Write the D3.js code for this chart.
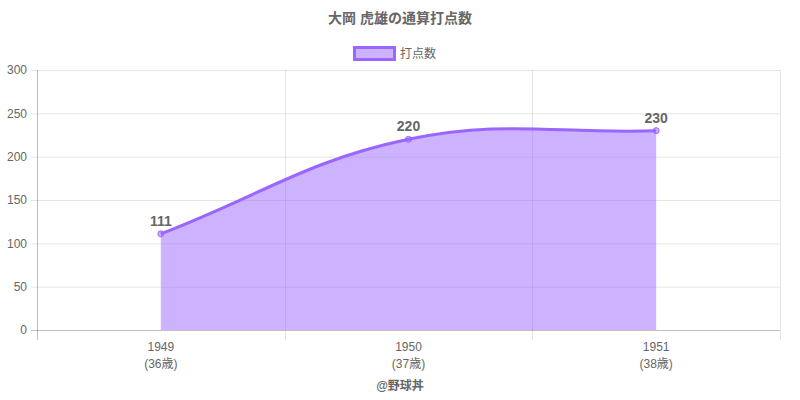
<!DOCTYPE html>
<html><head><meta charset="utf-8">
<script src="https://cdn.jsdelivr.net/npm/d3@7"></script>
<style>body{margin:0;background:#fff}svg{display:block}</style>
</head><body>
<svg id="c" width="800" height="400"></svg>
<script>
const title = "大岡 虎雄の通算打点数";
const seriesName = "打点数";
const years = ["1949", "1950", "1951"];
const ages = ["(36歳)", "(37歳)", "(38歳)"];
const values = [111, 220, 230];
const yTicks = [0, 50, 100, 150, 200, 250, 300];
const credit = "@野球丼";

const font = "'Liberation Sans', Arial, 'Noto Sans CJK JP', sans-serif";
const svg = d3.select("#c").style("font-family", font);
const L = 37, R = 780, T = 70, B = 330;

const x = d3.scaleBand().domain(years).range([L, R]);
const y = d3.scaleLinear().domain([0, 300]).range([B, T]);

// Chart.js-style tension spline as a d3 curve
function ChartSpline(context) { this._context = context; }
ChartSpline.prototype = {
  areaStart() { this._line = 0; }, areaEnd() { this._line = NaN; },
  lineStart() { this._pts = []; },
  point(px, py) { this._pts.push([+px, +py]); },
  lineEnd() {
    const p = this._pts, n = p.length, t = 0.4, ctx = this._context;
    const cps = p.map((cur, i) => {
      const prev = i > 0 ? p[i - 1] : cur, next = i < n - 1 ? p[i + 1] : cur;
      const d01 = Math.hypot(cur[0] - prev[0], cur[1] - prev[1]);
      const d12 = Math.hypot(next[0] - cur[0], next[1] - cur[1]);
      let s01 = d01 / (d01 + d12), s12 = d12 / (d01 + d12);
      if (isNaN(s01)) s01 = 0; if (isNaN(s12)) s12 = 0;
      const fa = t * s01, fb = t * s12;
      return {
        prev: [cur[0] - fa * (next[0] - prev[0]), cur[1] - fa * (next[1] - prev[1])],
        next: [cur[0] + fb * (next[0] - prev[0]), cur[1] + fb * (next[1] - prev[1])]
      };
    });
    p.forEach((pt, i) => {
      if (i === 0) { this._line ? ctx.lineTo(pt[0], pt[1]) : ctx.moveTo(pt[0], pt[1]); }
      else ctx.bezierCurveTo(cps[i - 1].next[0], cps[i - 1].next[1], cps[i].prev[0], cps[i].prev[1], pt[0], pt[1]);
    });
    if (this._line || (this._line !== 0 && n === 1)) ctx.closePath();
    this._line = 1 - this._line;
  }
};
const curve = ctx => new ChartSpline(ctx);

// horizontal grid
svg.append("g").selectAll("line").data(yTicks).join("line")
  .attr("x1", L - 6).attr("x2", R)
  .attr("y1", d => y(d) + 0.5).attr("y2", d => y(d) + 0.5)
  .attr("stroke", d => d === 0 ? "rgba(0,0,0,0.25)" : "rgba(0,0,0,0.1)");
// vertical grid
const vx = years.map(d => x(d)).concat([R]);
svg.append("g").selectAll("line").data(vx).join("line")
  .attr("x1", d => Math.round(d) + 0.5).attr("x2", d => Math.round(d) + 0.5)
  .attr("y1", T).attr("y2", B + 10)
  .attr("stroke", (d, i) => i === 0 ? "rgba(0,0,0,0.25)" : "rgba(0,0,0,0.1)");

// y labels
svg.append("g").selectAll("text").data(yTicks).join("text")
  .attr("x", L - 10).attr("y", d => y(d)).attr("dy", "0.35em")
  .attr("text-anchor", "end").attr("font-size", 12).attr("fill", "#666")
  .text(d => d);

// x labels
const cx = d => x(d) + x.bandwidth() / 2;
svg.append("g").selectAll("text").data(years).join("text")
  .attr("x", cx).attr("y", B + 21).attr("text-anchor", "middle")
  .attr("font-size", 12).attr("fill", "#666").text(d => d);
svg.append("g").selectAll("text").data(ages).join("text")
  .attr("x", (d, i) => cx(years[i])).attr("y", B + 38).attr("text-anchor", "middle")
  .attr("font-size", 12).attr("fill", "#666").text(d => d);

const pts = years.map((d, i) => [cx(d), y(values[i])]);
const area = d3.area().x(d => d[0]).y0(B).y1(d => d[1]).curve(curve);
const line = d3.line().x(d => d[0]).y(d => d[1]).curve(curve);

svg.append("path").attr("d", area(pts)).attr("fill", "rgba(153,102,255,0.5)");
svg.append("path").attr("d", line(pts)).attr("fill", "none")
  .attr("stroke", "rgb(153,102,255)").attr("stroke-width", 3);
svg.append("g").selectAll("circle").data(pts).join("circle")
  .attr("cx", d => d[0]).attr("cy", d => d[1]).attr("r", 3)
  .attr("fill", "rgba(153,102,255,0.5)").attr("stroke", "rgb(153,102,255)").attr("stroke-width", 1);

svg.append("g").selectAll("text").data(pts).join("text")
  .attr("x", d => d[0]).attr("y", d => d[1] - 8).attr("text-anchor", "middle")
  .attr("font-size", 14).attr("font-weight", "bold").attr("fill", "#666")
  .text((d, i) => values[i]);

// title
svg.append("text").attr("x", 400).attr("y", 23).attr("text-anchor", "middle")
  .attr("font-size", 14).attr("font-weight", "bold").attr("fill", "#666").text(title);
// legend
svg.append("rect").attr("x", 354.5).attr("y", 47.5).attr("width", 40).attr("height", 12)
  .attr("fill", "rgba(153,102,255,0.5)").attr("stroke", "rgb(153,102,255)").attr("stroke-width", 3);
svg.append("text").attr("x", 400).attr("y", 54).attr("dy", "0.35em")
  .attr("font-size", 12).attr("fill", "#666").text(seriesName);
// credit
svg.append("text").attr("x", 400).attr("y", 390).attr("text-anchor", "middle")
  .attr("font-size", 12).attr("font-weight", "bold").attr("fill", "#666").text(credit);
</script>
</body></html>
